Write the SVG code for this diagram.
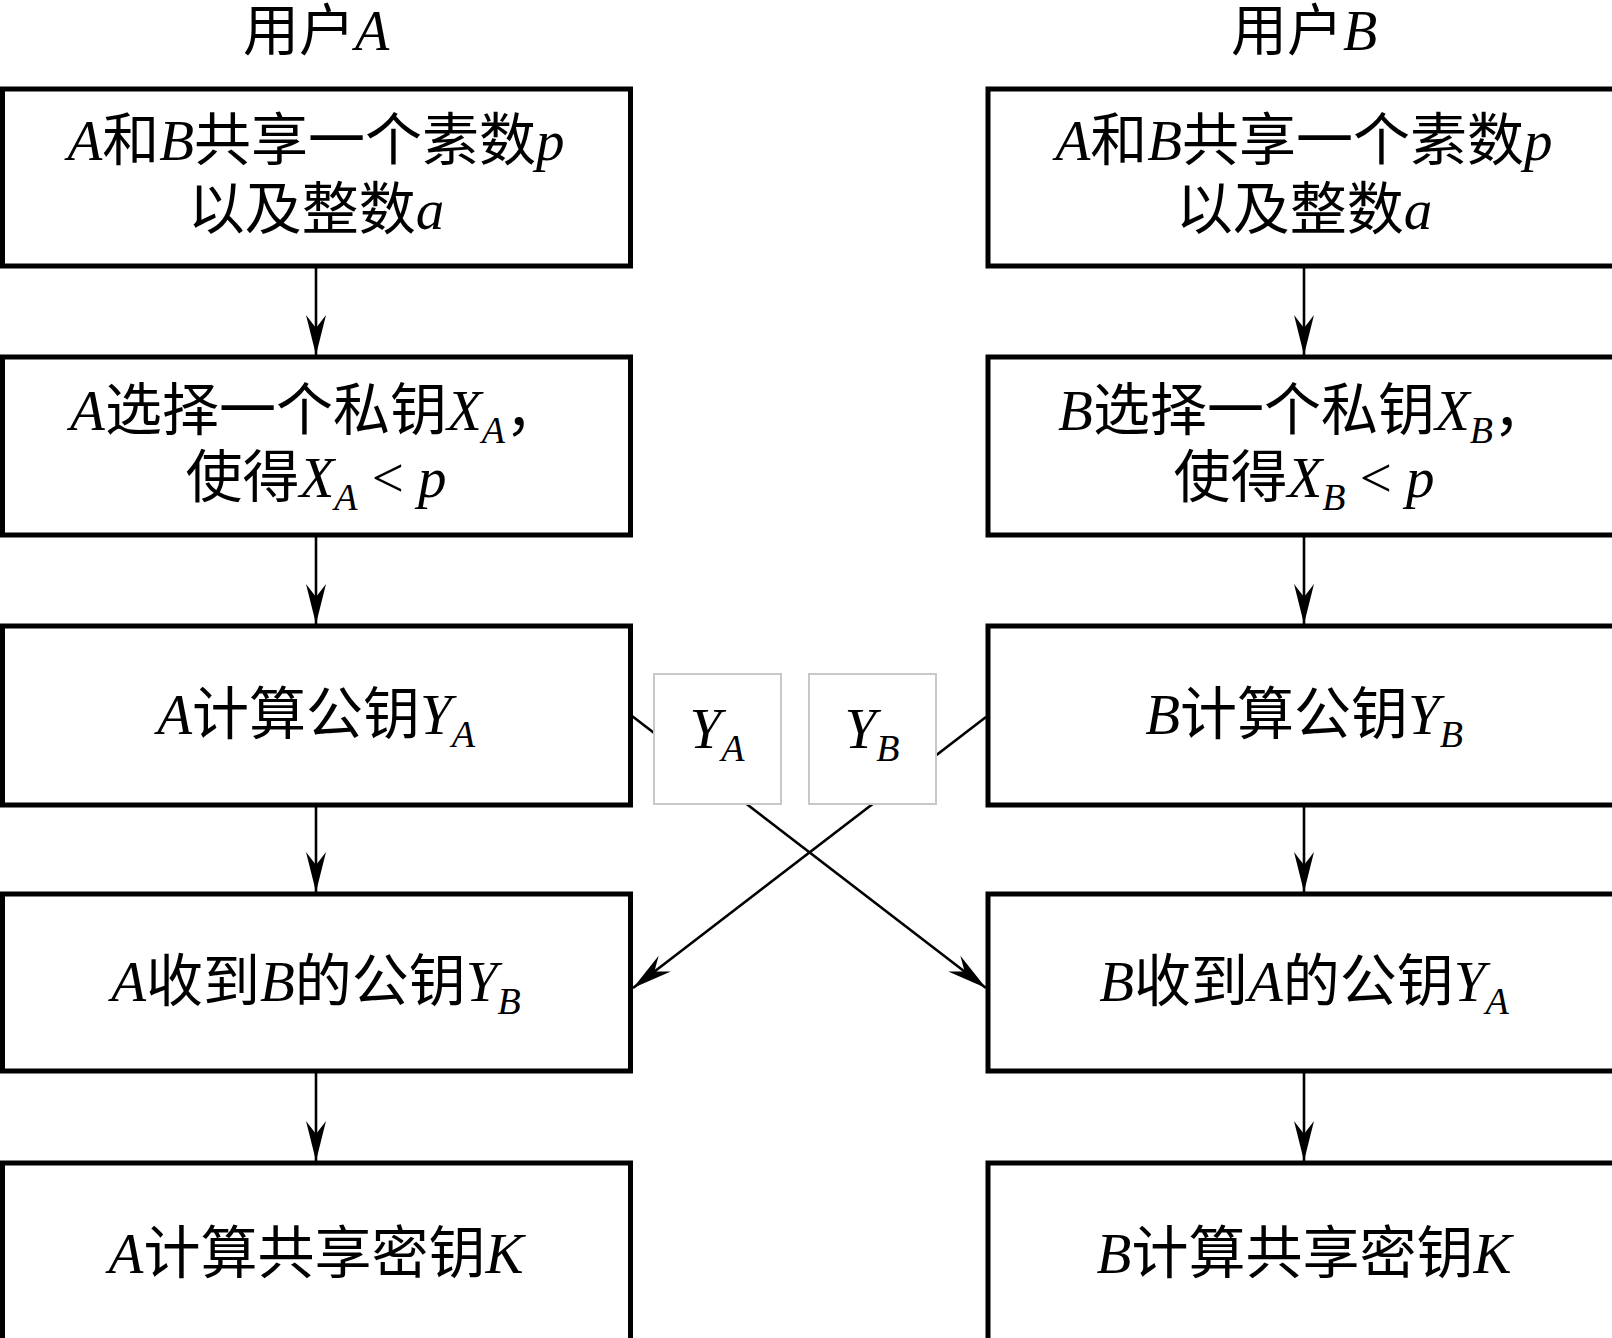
<svg xmlns="http://www.w3.org/2000/svg" width="1612" height="1338" viewBox="0 0 1612 1338">
<style>
.box{fill:#fff;stroke:#000;stroke-width:5}
.lbl{fill:#fff;stroke:#c8c8c8;stroke-width:2}
.t{font-family:"Liberation Serif","Noto Sans CJK SC",serif;font-size:57px;fill:#000;text-anchor:middle}
.h{font-size:56px}
.i{font-style:italic}
.s{font-size:38px;font-style:italic}
.c{stroke:#000;stroke-width:2.6;fill:none}
</style>
<defs>
<marker id="ah" markerUnits="userSpaceOnUse" viewBox="-42 -12 44 24" markerWidth="44" markerHeight="24" refX="0" refY="0" orient="auto">
<path d="M0,0 L-40,-10 L-27,0 L-40,10 Z" fill="#000"/>
</marker>
</defs>
<rect width="1612" height="1338" fill="#fff"/>

<g id="connectors">
<line class="c" x1="316" y1="268" x2="316" y2="355" marker-end="url(#ah)"/>
<line class="c" x1="316" y1="537" x2="316" y2="624" marker-end="url(#ah)"/>
<line class="c" x1="316" y1="807" x2="316" y2="892" marker-end="url(#ah)"/>
<line class="c" x1="316" y1="1073" x2="316" y2="1161" marker-end="url(#ah)"/>
<line class="c" x1="1304" y1="268" x2="1304" y2="355" marker-end="url(#ah)"/>
<line class="c" x1="1304" y1="537" x2="1304" y2="624" marker-end="url(#ah)"/>
<line class="c" x1="1304" y1="807" x2="1304" y2="892" marker-end="url(#ah)"/>
<line class="c" x1="1304" y1="1073" x2="1304" y2="1161" marker-end="url(#ah)"/>
<line class="c" x1="632" y1="716" x2="986" y2="988" marker-end="url(#ah)"/>
<line class="c" x1="986" y1="717" x2="633" y2="988" marker-end="url(#ah)"/>
</g>

<g id="title-a"><text class="t h" x="316" y="50">用户<tspan class="i">A</tspan></text></g>
<g id="title-b"><text class="t h" x="1304" y="50">用户<tspan class="i">B</tspan></text></g>

<g id="a1">
<rect class="box" x="2.5" y="89" width="628" height="177"/>
<text class="t" x="316" y="160"><tspan class="i">A</tspan>和<tspan class="i">B</tspan>共享一个素数<tspan class="i">p</tspan></text>
<text class="t" x="316" y="229">以及整数<tspan class="i">a</tspan></text>
</g>
<g id="a2">
<rect class="box" x="2.5" y="357" width="628" height="178"/>
<text class="t" x="316" y="430"><tspan class="i">A</tspan>选择一个私钥<tspan class="i">X</tspan><tspan class="s" dy="13">A</tspan><tspan dy="-13">，</tspan></text>
<text class="t" x="316" y="497">使得<tspan class="i">X</tspan><tspan class="s" dy="13">A</tspan><tspan dy="-13"> &lt; </tspan><tspan class="i">p</tspan></text>
</g>
<g id="a3">
<rect class="box" x="2.5" y="626" width="628" height="179"/>
<text class="t" x="316" y="734"><tspan class="i">A</tspan>计算公钥<tspan class="i">Y</tspan><tspan class="s" dy="13">A</tspan></text>
</g>
<g id="a4">
<rect class="box" x="2.5" y="894" width="628" height="177"/>
<text class="t" x="316" y="1001"><tspan class="i">A</tspan>收到<tspan class="i">B</tspan>的公钥<tspan class="i">Y</tspan><tspan class="s" dy="13">B</tspan></text>
</g>
<g id="a5">
<rect class="box" x="2.5" y="1163" width="628" height="185"/>
<text class="t" x="316" y="1273"><tspan class="i">A</tspan>计算共享密钥<tspan class="i">K</tspan></text>
</g>

<g id="b1">
<rect class="box" x="988" y="89" width="640" height="177"/>
<text class="t" x="1304" y="160"><tspan class="i">A</tspan>和<tspan class="i">B</tspan>共享一个素数<tspan class="i">p</tspan></text>
<text class="t" x="1304" y="229">以及整数<tspan class="i">a</tspan></text>
</g>
<g id="b2">
<rect class="box" x="988" y="357" width="640" height="178"/>
<text class="t" x="1304" y="430"><tspan class="i">B</tspan>选择一个私钥<tspan class="i">X</tspan><tspan class="s" dy="13">B</tspan><tspan dy="-13">，</tspan></text>
<text class="t" x="1304" y="497">使得<tspan class="i">X</tspan><tspan class="s" dy="13">B</tspan><tspan dy="-13"> &lt; </tspan><tspan class="i">p</tspan></text>
</g>
<g id="b3">
<rect class="box" x="988" y="626" width="640" height="179"/>
<text class="t" x="1304" y="734"><tspan class="i">B</tspan>计算公钥<tspan class="i">Y</tspan><tspan class="s" dy="13">B</tspan></text>
</g>
<g id="b4">
<rect class="box" x="988" y="894" width="640" height="177"/>
<text class="t" x="1304" y="1001"><tspan class="i">B</tspan>收到<tspan class="i">A</tspan>的公钥<tspan class="i">Y</tspan><tspan class="s" dy="13">A</tspan></text>
</g>
<g id="b5">
<rect class="box" x="988" y="1163" width="640" height="185"/>
<text class="t" x="1304" y="1273"><tspan class="i">B</tspan>计算共享密钥<tspan class="i">K</tspan></text>
</g>

<g id="ya">
<rect class="lbl" x="654" y="674" width="127" height="130"/>
<text class="t" x="717" y="748"><tspan class="i">Y</tspan><tspan class="s" dy="13">A</tspan></text>
</g>
<g id="yb">
<rect class="lbl" x="809" y="674" width="127" height="130"/>
<text class="t" x="872" y="748"><tspan class="i">Y</tspan><tspan class="s" dy="13">B</tspan></text>
</g>
</svg>
